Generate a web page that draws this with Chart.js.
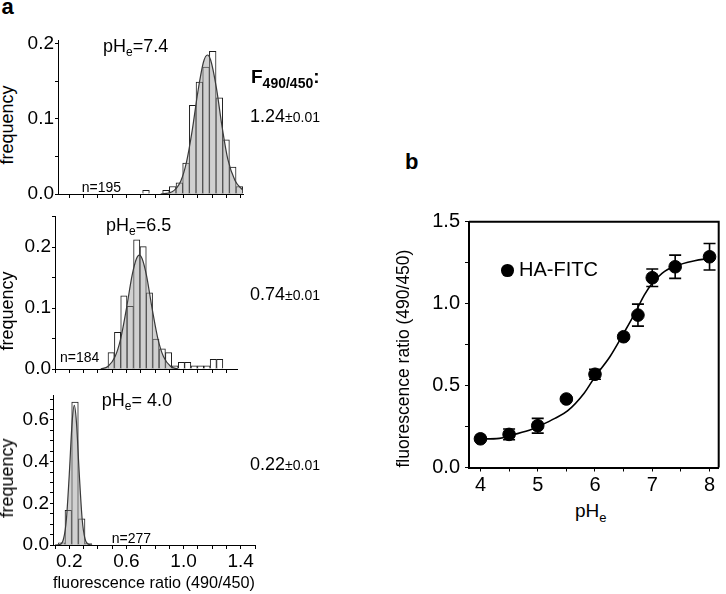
<!DOCTYPE html>
<html lang="en">
  <head>
    <meta charset="UTF-8" />
    <script src="https://cdn.jsdelivr.net/npm/chart.js@4.4.1/dist/chart.umd.min.js"></script>
    <title>pHe histograms and HA-FITC calibration</title>
    <style>
      body { margin: 0; background: #fff; }
      #fig {
        position: relative; width: 726px; height: 594px; overflow: hidden;
        font-family: "Liberation Sans", Arial, sans-serif; color: #000;
      }
      #fig canvas { position: absolute; }
      .lbl { position: absolute; line-height: 1; white-space: nowrap; }
      .sub { position: relative; }
    </style>
  </head>
  <body>
    <div id="fig">
      <canvas id="histTop"></canvas>
      <canvas id="histMid"></canvas>
      <canvas id="histBot"></canvas>
      <canvas id="calib"></canvas>
    </div>
    <script>
      // ---- panel a : histograms (bin centre, frequency) ----
      const binTop = [0.7370, 0.8771, 0.9238, 0.9705, 1.0172, 1.0639, 1.1106, 1.1573, 1.2040, 1.2507, 1.2974, 1.3441, 1.3908];
      const freqTop = [0.005, 0.005, 0.010, 0.015, 0.041, 0.118, 0.149, 0.169, 0.190, 0.128, 0.072, 0.036, 0.010];
      const fitTopX = [0.84, 0.92, 0.98, 1.02, 1.06, 1.10, 1.14, 1.167, 1.19, 1.23, 1.27, 1.31, 1.36, 1.415];
      const fitTopY = [0.000, 0.003, 0.017, 0.042, 0.084, 0.136, 0.176, 0.185, 0.178, 0.141, 0.089, 0.046, 0.018, 0.005];

      const binMid = [0.493, 0.538, 0.582, 0.627, 0.672, 0.717, 0.761, 0.806, 0.851, 0.895, 0.940, 0.985, 1.029, 1.074, 1.119, 1.164, 1.208, 1.253];
      const freqMid = [0.027, 0.060, 0.120, 0.103, 0.212, 0.201, 0.125, 0.049, 0.033, 0.027, 0.005, 0.011, 0.011, 0.005, 0.005, 0.005, 0.016, 0.016];
      const fitMidX = [0.42, 0.47, 0.52, 0.56, 0.60, 0.64, 0.67, 0.69, 0.71, 0.74, 0.78, 0.82, 0.86, 0.91, 0.96];
      const fitMidY = [0.000, 0.004, 0.020, 0.050, 0.099, 0.154, 0.181, 0.187, 0.181, 0.154, 0.099, 0.050, 0.020, 0.004, 0.000];

      const binBot = [0.147, 0.193, 0.240, 0.287, 0.333];
      const freqBot = [0.011, 0.166, 0.686, 0.126, 0.007];
      const fitBotX = [0.10, 0.13, 0.16, 0.18, 0.20, 0.22, 0.235, 0.25, 0.27, 0.29, 0.31, 0.34, 0.36];
      const fitBotY = [0.000, 0.002, 0.030, 0.125, 0.340, 0.590, 0.670, 0.590, 0.340, 0.125, 0.030, 0.002, 0.000];

      const ratioTicksA = [0.2, 0.6, 1.0, 1.4];

      // ---- panel b : calibration ----
      const phB = [4, 4.5, 5, 5.5, 6, 6.5, 6.75, 7, 7.4, 8];
      const ratioB = [0.175, 0.202, 0.255, 0.418, 0.569, 0.798, 0.930, 1.158, 1.225, 1.286];
      const errB = [0.01, 0.033, 0.045, 0.01, 0.03, 0.01, 0.067, 0.053, 0.071, 0.081];
      const fitPh = [4, 4.33, 4.55, 4.9, 5.0, 5.3, 5.52, 5.81, 6.0, 6.26, 6.5, 6.71, 6.86, 7.0, 7.17, 7.4, 7.74, 8];
      const fitRatio = [0.174, 0.178, 0.198, 0.233, 0.249, 0.30, 0.345, 0.453, 0.554, 0.676, 0.819, 0.95, 1.052, 1.124, 1.185, 1.229, 1.262, 1.276];

      const FONT = '"Liberation Sans", Arial, sans-serif';
      Chart.defaults.font.family = FONT;
      Chart.defaults.color = "#000";

      const pts = (xs, ys) => xs.map((x, i) => ({ x: x, y: ys[i] }));
      const isMult = (v, m) => Math.abs(v / m - Math.round(v / m)) < 1e-6;

      // put canvas at box, and pin the plot area to area
      function place(id, box, area) {
        const c = document.getElementById(id);
        c.width = box.w;
        c.height = box.h;
        c.style.left = box.x + "px";
        c.style.top = box.y + "px";
        return {
          canvas: c,
          yw: area.l - box.x,
          xh: box.y + box.h - area.b,
          pad: { top: area.t - box.y, right: box.x + box.w - area.r, left: 0, bottom: 0 },
        };
      }

      function histogram(id, box, area, xr, ymax, yLabelStep, bins, freq, fx, fy, xTitle) {
        const p = place(id, box, area);
        new Chart(p.canvas, {
          type: "bar",
          data: {
            datasets: [
              {
                type: "line",
                data: pts(fx, fy),
                borderColor: "#3a3a3a",
                borderWidth: 1.2,
                backgroundColor: "rgba(150,150,150,0.45)",
                fill: "origin",
                pointRadius: 0,
                cubicInterpolationMode: "monotone",
                order: 0,
              },
              {
                type: "bar",
                data: pts(bins, freq),
                backgroundColor: "#fff",
                borderColor: "#1a1a1a",
                borderWidth: 1,
                barPercentage: 1,
                categoryPercentage: 1,
                order: 1,
              },
            ],
          },
          options: {
            responsive: false,
            animation: false,
            layout: { padding: p.pad },
            plugins: { legend: { display: false }, tooltip: { enabled: false } },
            scales: {
              x: {
                type: "linear",
                min: xr[0],
                max: xr[1],
                offset: false,
                grid: { drawOnChartArea: false, tickLength: 4, color: "#000", offset: false },
                border: { color: "#000", width: 1 },
                ticks: {
                  stepSize: 0.1,
                  includeBounds: false,
                  autoSkip: false,
                  maxRotation: 0,
                  padding: 1,
                  font: { size: 19 },
                  callback: (v) => (xTitle && ratioTicksA.some((t) => Math.abs(t - v) < 1e-6) ? v.toFixed(1) : ""),
                },
                title: xTitle
                  ? { display: true, text: xTitle, font: { size: 17 }, padding: { top: 0, bottom: 0 } }
                  : { display: false },
                afterFit: (s) => { s.height = p.xh; s.paddingLeft = 0; s.paddingRight = 0; },
              },
              y: {
                min: 0,
                max: ymax,
                grid: { drawOnChartArea: false, tickLength: 3, color: "#000" },
                border: { color: "#000", width: 1 },
                ticks: {
                  stepSize: 0.05,
                  includeBounds: false,
                  autoSkip: false,
                  padding: 1,
                  font: { size: 19 },
                  callback: (v) => (isMult(v, yLabelStep) ? v.toFixed(1) : ""),
                },
                afterFit: (s) => { s.width = p.yw; s.paddingTop = 0; s.paddingBottom = 0; },
              },
            },
          },
        });
      }

      histogram("histTop", { x: 20, y: 28, w: 232, h: 180 }, { l: 58, t: 40, r: 243, b: 194 },
        [0.121, 1.416], 0.205, 0.1, binTop, freqTop, fitTopX, fitTopY, null);
      histogram("histMid", { x: 20, y: 204, w: 232, h: 180 }, { l: 55, t: 216.7, r: 237, b: 369 },
        [0.1, 1.374], 0.25, 0.1, binMid, freqMid, fitMidX, fitMidY, null);
      histogram("histBot", { x: 0, y: 383, w: 262, h: 211 }, { l: 53, t: 395, r: 255, b: 545 },
        [0.086, 1.5], 0.72, 0.2, binBot, freqBot, fitBotX, fitBotY, "fluorescence ratio (490/450)");

      // ---- panel b ----
      const boxFrame = {
        id: "boxFrame",
        afterDraw(chart) {
          const { ctx, chartArea: a } = chart;
          ctx.save();
          ctx.strokeStyle = "#000";
          ctx.lineWidth = 2;
          ctx.beginPath();
          ctx.moveTo(a.left, a.top);
          ctx.lineTo(a.right, a.top);
          ctx.lineTo(a.right, a.bottom);
          ctx.stroke();
          ctx.restore();
        },
      };
      const errorBars = {
        id: "errorBars",
        afterDatasetsDraw(chart) {
          const { ctx, scales: { x, y } } = chart;
          ctx.save();
          ctx.strokeStyle = "#000";
          ctx.lineWidth = 1.6;
          phB.forEach((ph, i) => {
            const px = x.getPixelForValue(ph);
            const hi = y.getPixelForValue(ratioB[i] + errB[i]);
            const lo = y.getPixelForValue(ratioB[i] - errB[i]);
            ctx.beginPath();
            ctx.moveTo(px, hi); ctx.lineTo(px, lo);
            ctx.moveTo(px - 6, hi); ctx.lineTo(px + 6, hi);
            ctx.moveTo(px - 6, lo); ctx.lineTo(px + 6, lo);
            ctx.stroke();
          });
          ctx.restore();
        },
      };

      const pb = place("calib", { x: 394, y: 205, w: 332, h: 295 }, { l: 469, t: 221.7, r: 725, b: 467.5 });
      new Chart(pb.canvas, {
        type: "scatter",
        data: {
          datasets: [
            {
              label: "HA-FITC",
              data: pts(phB, ratioB),
              backgroundColor: "#000",
              borderColor: "#000",
              pointRadius: 6.3,
              order: 0,
            },
            {
              label: "fit",
              data: pts(fitPh, fitRatio),
              showLine: true,
              borderColor: "#000",
              borderWidth: 1.6,
              pointRadius: 0,
              cubicInterpolationMode: "monotone",
              order: 1,
            },
          ],
        },
        options: {
          responsive: false,
          animation: false,
          layout: { padding: pb.pad },
          plugins: { legend: { display: false }, tooltip: { enabled: false } },
          scales: {
            x: {
              min: 3.8,
              max: 8.16,
              grid: { drawOnChartArea: false, tickLength: 4, color: "#000" },
              border: { color: "#000", width: 2 },
              ticks: {
                stepSize: 0.5,
                includeBounds: false,
                autoSkip: false,
                maxRotation: 0,
                padding: 2,
                font: { size: 20 },
                callback: (v) => (isMult(v, 1) ? String(v) : ""),
              },
              afterFit: (s) => { s.height = pb.xh; s.paddingLeft = 0; s.paddingRight = 0; },
            },
            y: {
              min: 0,
              max: 1.5,
              grid: { drawOnChartArea: false, tickLength: 4, color: "#000" },
              border: { color: "#000", width: 2 },
              ticks: {
                stepSize: 0.25,
                includeBounds: false,
                autoSkip: false,
                padding: 5,
                font: { size: 20 },
                callback: (v) => (isMult(v, 0.5) ? v.toFixed(1) : ""),
              },
              title: {
                display: true,
                text: "fluorescence ratio (490/450)",
                align: "start",
                font: { size: 17.5 },
                padding: { top: 0, bottom: 0 },
              },
              afterFit: (s) => { s.width = pb.yw; s.paddingTop = 0; s.paddingBottom = 0; },
            },
          },
        },
        plugins: [boxFrame, errorBars],
      });

      // ---- text annotations ----
      const fig = document.getElementById("fig");
      function addText(html, x, base, size, bold) {
        const d = document.createElement("div");
        d.className = "lbl";
        d.innerHTML = html;
        d.style.left = x + "px";
        d.style.top = base - 0.8465 * size + "px";
        d.style.fontSize = size + "px";
        if (bold) d.style.fontWeight = "bold";
        fig.appendChild(d);
      }
      function addVText(text, cx, cy, size) {
        const d = document.createElement("div");
        d.className = "lbl";
        d.textContent = text;
        d.style.fontSize = size + "px";
        d.style.left = cx + "px";
        d.style.top = cy + "px";
        d.style.transform = "translate(-50%,-50%) rotate(-90deg)";
        fig.appendChild(d);
      }
      const pHe = (v) => 'pH<span class="sub" style="font-size:12px;top:4px">e</span>' + v;
      const pm = (v) => v + '<span style="font-size:14px">±0.01</span>';

      addText("a", 1.5, 15, 22, true);
      addText("b", 405, 170, 22, true);
      addText(pHe("=7.4"), 103, 52, 18);
      addText(pHe("=6.5"), 106, 231.7, 18);
      addText(pHe("= 4.0"), 101.7, 406.7, 18);
      addText("n=195", 81.7, 192, 14);
      addText("n=184", 60, 361.7, 14);
      addText("n=277", 111.7, 543.3, 14);
      addText('F<span class="sub" style="font-size:14px;top:5px">490/450</span>:', 251, 83.3, 19, true);
      addText(pm("1.24"), 250, 122.3, 18);
      addText(pm("0.74"), 250, 300.7, 18);
      addText(pm("0.22"), 250, 470, 18);
      addVText("frequency", 6.8, 125, 18);
      addVText("frequency", 6.8, 311, 18);
      addVText("frequency", 6.8, 477.5, 18);
      addText('pH<span class="sub" style="font-size:13px;top:4.4px">e</span>', 575, 517.3, 19);
      addText('<span style="display:inline-block;width:12.6px;height:12.6px;border-radius:50%;background:#000;margin-right:5px;vertical-align:-1px"></span>HA-FITC', 501.4, 275.7, 20);
    </script>
  </body>
</html>
